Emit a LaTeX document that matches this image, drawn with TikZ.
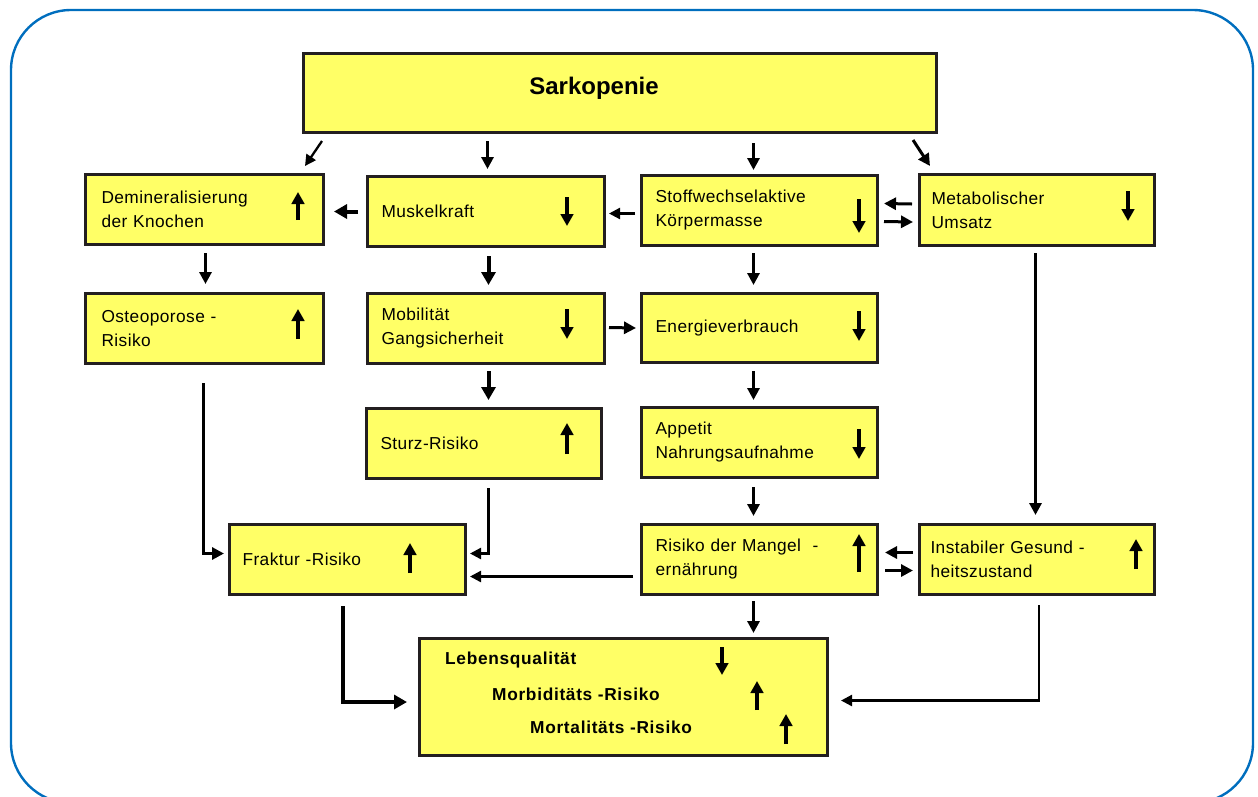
\documentclass[tikz,border=0pt]{standalone}
\usepackage{fontspec}
\setmainfont{Liberation Sans}
\newfontfamily\boxfont{Liberation Sans}[LetterSpace=2.5]
\newfontfamily\boldfont{Liberation Sans}[LetterSpace=4]
\usetikzlibrary{arrows.meta,calc}

\definecolor{boxfill}{RGB}{255,255,102}
\definecolor{boxline}{RGB}{35,31,32}
\definecolor{frameblue}{RGB}{0,110,190}

\tikzset{
  box/.style={draw=boxline, line width=3pt, fill=boxfill, anchor=north west,
    inner xsep=14pt, inner ysep=0pt, align=left,
    font=\boxfont\fontsize{17.3}{24}\selectfont},
  conn/.style={draw=black, line width=3pt, -{Triangle[length=12pt,width=12pt]}},
  thinconn/.style={conn, line width=2.3pt, -{Triangle[length=11pt,width=11pt]}},
  heavyconn/.style={conn, line width=4pt, -{Triangle[length=13pt,width=14pt]}},
  trend/.style={draw=black, line width=3.8pt, -{Triangle[length=12pt,width=12.5pt]}},
  boldlabel/.style={anchor=west, inner sep=0pt, font=\boldfont\bfseries\fontsize{17.3}{20}\selectfont}
}

\begin{document}
\begin{tikzpicture}[x=1pt,y=-1pt]
\useasboundingbox (0,0) rectangle (1258,796);

% outer frame
\begin{scope}
  \clip (0,0) rectangle (1258,796);
  \draw[frameblue, line width=2.4pt, rounded corners=60pt] (11,10) rectangle (1253,803);
\end{scope}

% boxes
\node[box, minimum width=633pt, minimum height=79pt] (sark) at (302,52) {};
\node[inner sep=0pt, font=\bfseries\fontsize{24}{28}\selectfont] (sarklabel) at (594,88) {Sarkopenie};

\node[box, inner xsep=16pt, text width=206pt, minimum height=70pt] (demin) at (84,173) {Demineralisierung\\der Knochen};
\node[box, text width=209pt, minimum height=70pt] (musk) at (366,175) {Muskelkraft};
\node[box, text width=208pt, minimum height=70pt] (stoff) at (640,174) {Stoffwechselaktive\\Körpermasse};
\node[box, inner xsep=12pt, text width=211pt, minimum height=71pt] (meta) at (918,173) {Metabolischer\\Umsatz};

\node[box, inner xsep=16pt, text width=206pt, minimum height=70pt] (osteo) at (84,292) {Osteoporose -\\Risiko};
\node[box, text width=209pt, minimum height=70pt] (mobil) at (366,292) {Mobilität\\Gangsicherheit};
\node[box, text width=208pt, minimum height=69pt] (energ) at (640,292) {Energieverbrauch};

\node[box, text width=207pt, minimum height=70pt] (sturz) at (365,407) {Sturz-Risiko};
\node[box, text width=208pt, minimum height=70pt] (appet) at (640,406) {Appetit\\Nahrungsaufnahme};

\node[box, inner xsep=13pt, text width=210pt, minimum height=70pt] (frakt) at (228,523) {Fraktur -Risiko};
\node[box, text width=208pt, minimum height=70pt] (mangel) at (640,523) {Risiko der Mangel\ \ -\\ernährung};
\node[box, inner xsep=11pt, text width=213pt, minimum height=70pt] (instab) at (918,523) {Instabiler Gesund -\\heitszustand};

\node[box, minimum width=408pt, minimum height=117pt] (lebens) at (418,637) {};
\node[boldlabel] (lq) at (445,660) {Lebensqualität};
\node[boldlabel] (morb) at (492,694) {Morbiditäts -Risiko};
\node[boldlabel] (mort) at (530,727) {Mortalitäts -Risiko};

% trend marks inside the boxes
\draw[trend] (298,220) -- (298,192);
\draw[trend] (567,197) -- (567,226);
\draw[trend] (859,199) -- (859,233);
\draw[trend] (1128,191) -- (1128,221);
\draw[trend] (298,339) -- (298,309);
\draw[trend] (567,309) -- (567,339);
\draw[trend] (859,311) -- (859,341);
\draw[trend] (567,454) -- (567,423);
\draw[trend] (859,429) -- (859,459);
\draw[trend] (410,573) -- (410,543);
\draw[trend] (859,572) -- (859,534);
\draw[trend] (1136,569) -- (1136,539);
\draw[trend] (722,647) -- (722,675);
\draw[trend] (757,710) -- (757,681);
\draw[trend] (786,744) -- (786,714);

% connectors from Sarkopenie
\draw[thinconn] ($(sark.south west)+(20,7)$) -- ($(demin.north east)+(-20,-7)$);
\draw[conn] ($(sark.south -| musk.north)+(1.5,7)$) -- ($(musk.north)+(1.5,-6)$);
\draw[conn] ($(sark.south -| stoff.north)+(-6,9)$) -- ($(stoff.north)+(-6,-4)$);
\draw[conn] ($(sark.south east)+(-25,6)$) -- ($(meta.north west)+(12,-7)$);

% first row
\draw[heavyconn] ($(musk.west)+(-8,0)$) -- ($(demin.east)+(9,2)$);
\draw[thinconn] ($(stoff.west)+(-5,3)$) -- ($(musk.east)+(3,2)$);
\draw[conn] ($(meta.west)+(-6,-6)$) -- ($(stoff.east)+(5,-7)$);
\draw[conn] ($(stoff.east)+(5,11)$) -- ($(meta.west)+(-5,12)$);

% downward
\draw[conn] ($(demin.south)+(1,7)$) -- ($(osteo.north)+(1,-8)$);
\draw[heavyconn] ($(musk.south)+(2.5,8)$) -- ($(mobil.north)+(2.5,-7)$);
\draw[conn] ($(stoff.south)+(-6,6)$) -- ($(energ.north)+(-6,-7)$);
\draw[conn] ($(mobil.east)+(3,-1)$) -- ($(energ.west)+(-4,0)$);
\draw[heavyconn] ($(mobil.south)+(2.5,6)$) -- ($(sturz.north)+(4.5,-7)$);
\draw[conn] ($(energ.south)+(-6,7)$) -- ($(appet.north)+(-6,-6)$);
\draw[conn] ($(appet.south)+(-6,8)$) -- ($(mangel.north)+(-6,-7)$);
\draw[conn] ($(meta.south)+(-1.5,6)$) -- ($(instab.north)+(-1.5,-8)$);

% to Fraktur-Risiko
\draw[conn] ($(osteo.south)+(-1,18)$) |- ($(frakt.west)+(-4,-6)$);
\draw[thinconn] ($(sturz.south)+(4.5,8)$) |- ($(frakt.east)+(3,-6)$);
\draw[thinconn] ($(mangel.west)+(-7,17)$) -- ($(frakt.east)+(3,17)$);

% Mangelernaehrung and health state
\draw[conn] ($(instab.west)+(-5,-7)$) -- ($(mangel.east)+(6,-7)$);
\draw[conn] ($(mangel.east)+(6,11)$) -- ($(instab.west)+(-5,11)$);

% to quality of life
\draw[heavyconn] ($(frakt.south)+(-5,10)$) |- ($(lebens.west)+(-11,5)$);
\draw[conn] ($(mangel.south)+(-6,5)$) -- ($(mangel.south |- lebens.north)+(-6,-4)$);
\draw[thinconn] ($(instab.south)+(2,9)$) |- ($(lebens.east)+(12,3.5)$);
\end{tikzpicture}
\end{document}
